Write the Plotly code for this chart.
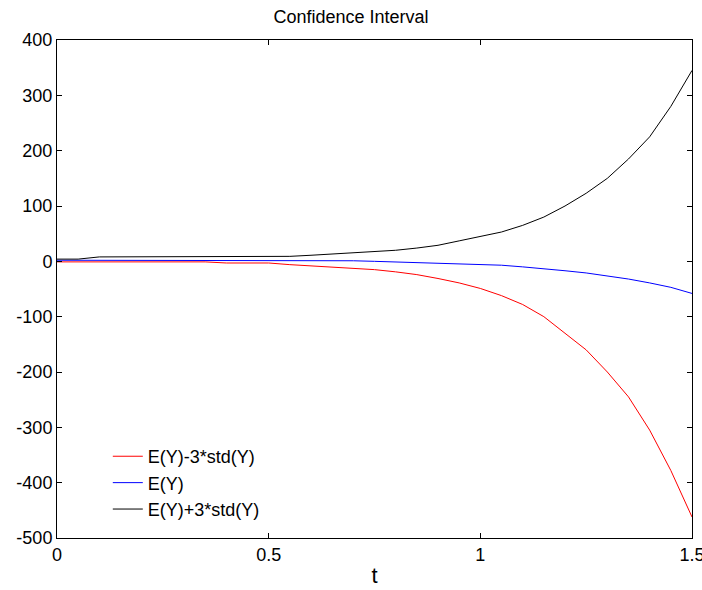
import plotly.graph_objects as go

t = [0.0, 0.05, 0.1, 0.15, 0.2, 0.25, 0.3, 0.35, 0.4, 0.45, 0.5, 0.55, 0.6, 0.65, 0.7,
     0.75, 0.8, 0.85, 0.9, 0.95, 1.0, 1.05, 1.1, 1.15, 1.2, 1.25, 1.3, 1.35, 1.4, 1.45, 1.5]

lower = [-1, -1, -1, -1, -1, -1, -1, -1, -3, -3, -3, -6, -8, -10, -12,
         -15, -19, -24, -31, -39, -49, -62, -78, -100, -130, -160, -200, -245, -305, -378, -462]
mean = [2, 2, 1, 1, 1, 1, 1, 1, 1, 1, 1, 1, 1, 1, 1,
        0, -1, -2, -3, -4, -5, -7, -10, -13, -17, -21, -26, -32, -39, -47, -58]
upper = [4, 4, 8, 8, 8, 8, 8, 8, 8, 8, 8, 9, 11, 13, 15,
         17, 20, 24, 29, 37, 45, 53, 65, 80, 100, 123, 150, 185, 225, 280, 345]

series_names = ["E(Y)-3*std(Y)", "E(Y)", "E(Y)+3*std(Y)"]
series_colors = ["#ff0000", "#0000ff", "#000000"]

x_ticks = [0, 0.5, 1, 1.5]
x_ticklabels = ["0", "0.5", "1", "1.5"]
y_ticks = [-500, -400, -300, -200, -100, 0, 100, 200, 300, 400]
y_ticklabels = ["-500", "-400", "-300", "-200", "-100", "0", "100", "200", "300", "400"]

fig = go.Figure()
for name, ys, col in zip(series_names, [lower, mean, upper], series_colors):
    fig.add_trace(go.Scatter(x=t, y=ys, mode="lines", name=name,
                             line=dict(color=col, width=1)))

axis_common = dict(showline=True, linecolor="black", linewidth=1, mirror="allticks",
                   ticks="inside", ticklen=5, tickcolor="black", showgrid=False,
                   zeroline=False, tickfont=dict(size=18, color="black"),
                   ticklabeloverflow="allow", automargin=False)

fig.update_layout(
    width=702, height=590,
    margin=dict(l=57, r=10, t=40, b=52),
    plot_bgcolor="white", paper_bgcolor="white",
    font=dict(family="Liberation Sans, Arial, sans-serif", size=18, color="black"),
    title=dict(text="Confidence Interval", x=0.5, xanchor="center", y=1 - 17 / 590,
               yanchor="middle", font=dict(size=18)),
    xaxis=dict(range=[0, 1.5], tickvals=x_ticks, ticktext=x_ticklabels,
               title=dict(text="t", standoff=4), **axis_common),
    yaxis=dict(range=[-500, 400], tickvals=y_ticks, ticktext=y_ticklabels, **axis_common),
    legend=dict(x=0.08, y=0.02, xanchor="left", yanchor="bottom",
                bgcolor="rgba(0,0,0,0)", font=dict(size=18), tracegroupgap=0),
)

fig.write_html("out.html")
